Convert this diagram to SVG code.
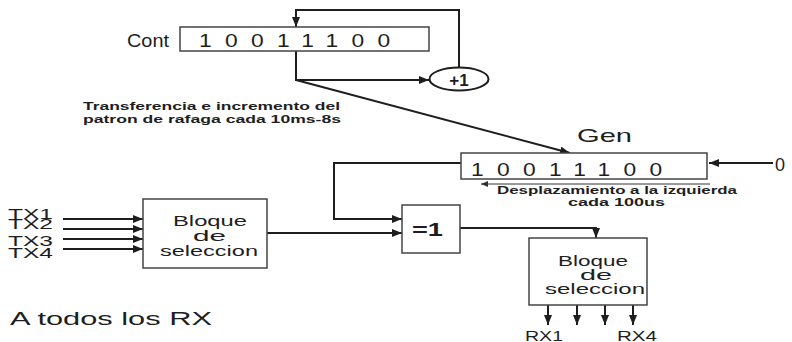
<svg xmlns="http://www.w3.org/2000/svg" width="792" height="342" viewBox="0 0 792 342">
<style>
  .box{fill:#fff;stroke:#444;stroke-width:1.5}
  .ln{fill:none;stroke:#1e1e1e;stroke-width:2}
  .thin{fill:none;stroke:#333;stroke-width:1}
  .t{font-family:"Liberation Sans",Arial,sans-serif;fill:#1e1e1e}
  .b{font-weight:bold}
  .dig{font-family:"Liberation Sans",Arial,sans-serif;fill:#1e1e1e;font-size:19px;letter-spacing:11.1px}
</style>
<defs>
  <marker id="ah" markerUnits="userSpaceOnUse" markerWidth="10" markerHeight="8" refX="10" refY="4" orient="auto">
    <path d="M0,0 L10,4 L0,8 z" fill="#1e1e1e"/>
  </marker>
  <marker id="ahs" markerUnits="userSpaceOnUse" markerWidth="7" markerHeight="6" refX="7" refY="3" orient="auto">
    <path d="M0,0 L7,3 L0,6 z" fill="#333"/>
  </marker>
</defs>
<rect width="792" height="342" fill="#fff"/>

<g id="connectors">
  <polyline class="ln" points="459,67 459,10 296,10 296,27" marker-end="url(#ah)"/>
  <polyline class="ln" points="296,51 296,80 429,80" marker-end="url(#ah)"/>
  <line class="ln" x1="296" y1="80" x2="570" y2="153" marker-end="url(#ah)"/>
  <polyline class="ln" points="461,163 334,163 334,219 402,219" marker-end="url(#ah)"/>
  <line class="ln" x1="773" y1="163" x2="709" y2="163" marker-end="url(#ah)"/>
  <line class="thin" x1="710" y1="184" x2="481" y2="184" marker-end="url(#ahs)"/>
  <line class="ln" x1="63" y1="219" x2="143" y2="219" marker-end="url(#ah)"/>
  <line class="ln" x1="63" y1="229" x2="143" y2="229" marker-end="url(#ah)"/>
  <line class="ln" x1="63" y1="239" x2="143" y2="239" marker-end="url(#ah)"/>
  <line class="ln" x1="63" y1="249" x2="143" y2="249" marker-end="url(#ah)"/>
  <line class="ln" x1="267" y1="233" x2="402" y2="233" marker-end="url(#ah)"/>
  <polyline class="ln" points="460,228 596,228 596,238" marker-end="url(#ah)"/>
  <line class="ln" x1="548" y1="305" x2="548" y2="325" marker-end="url(#ah)"/>
  <line class="ln" x1="577" y1="305" x2="577" y2="325" marker-end="url(#ah)"/>
  <line class="ln" x1="605" y1="305" x2="605" y2="325" marker-end="url(#ah)"/>
  <line class="ln" x1="633" y1="305" x2="633" y2="325" marker-end="url(#ah)"/>
</g>

<g id="cont">
  <text class="t" x="127" y="47" font-size="19" textLength="42" lengthAdjust="spacingAndGlyphs">Cont</text>
  <rect class="box" x="180" y="27" width="249" height="24"/>
  <text class="dig" transform="translate(199,47) scale(1.2,1)">10011100</text>
</g>

<g id="inc">
  <ellipse class="ln" cx="459" cy="79" rx="29.5" ry="11.5" fill="#fff"/>
  <text class="t b" x="459" y="86" font-size="17" text-anchor="middle">+1</text>
</g>

<g id="caption1">
  <text class="t b" x="83" y="110" font-size="11.5" textLength="257" lengthAdjust="spacingAndGlyphs">Transferencia e incremento del</text>
  <text class="t b" x="83" y="123" font-size="11.5" textLength="258" lengthAdjust="spacingAndGlyphs">patron de rafaga cada 10ms-8s</text>
</g>

<g id="gen">
  <text class="t" x="577" y="142" font-size="19" textLength="55" lengthAdjust="spacingAndGlyphs">Gen</text>
  <rect class="box" x="461" y="153" width="246" height="26"/>
  <text class="dig" transform="translate(471,176) scale(1.2,1)">10011100</text>
</g>

<g id="zero">
  <text class="t" x="775" y="171" font-size="18">0</text>
</g>

<g id="caption2">
  <text class="t b" x="497" y="194" font-size="11.5" textLength="240" lengthAdjust="spacingAndGlyphs">Desplazamiento a la izquierda</text>
  <text class="t b" x="568" y="206" font-size="11.5" textLength="97" lengthAdjust="spacingAndGlyphs">cada 100us</text>
</g>

<g id="tx">
  <text class="t" x="8" y="219" font-size="14" textLength="45" lengthAdjust="spacingAndGlyphs">TX1</text>
  <text class="t" x="8" y="229" font-size="14" textLength="45" lengthAdjust="spacingAndGlyphs">TX2</text>
  <text class="t" x="8" y="246" font-size="14" textLength="45" lengthAdjust="spacingAndGlyphs">TX3</text>
  <text class="t" x="8" y="258" font-size="14" textLength="45" lengthAdjust="spacingAndGlyphs">TX4</text>
</g>

<g id="bloque1">
  <rect class="box" x="143" y="199" width="124" height="69"/>
  <text class="t" x="173" y="226" font-size="15" textLength="74" lengthAdjust="spacingAndGlyphs">Bloque</text>
  <text class="t" x="193" y="241" font-size="15" textLength="33" lengthAdjust="spacingAndGlyphs">de</text>
  <text class="t" x="160" y="256" font-size="15" textLength="98" lengthAdjust="spacingAndGlyphs">seleccion</text>
</g>

<g id="xor">
  <rect class="box" x="402" y="205" width="58" height="48"/>
  <text class="t b" x="412" y="236" font-size="19" textLength="31" lengthAdjust="spacingAndGlyphs">=1</text>
</g>

<g id="bloque2">
  <rect class="box" x="529" y="238" width="118" height="67"/>
  <text class="t" x="558" y="266" font-size="15" textLength="70" lengthAdjust="spacingAndGlyphs">Bloque</text>
  <text class="t" x="580" y="280" font-size="15" textLength="32" lengthAdjust="spacingAndGlyphs">de</text>
  <text class="t" x="545" y="294" font-size="15" textLength="100" lengthAdjust="spacingAndGlyphs">seleccion</text>
</g>

<g id="rx">
  <text class="t" x="525" y="341" font-size="14" textLength="38" lengthAdjust="spacingAndGlyphs">RX1</text>
  <text class="t" x="617" y="341" font-size="14" textLength="40" lengthAdjust="spacingAndGlyphs">RX4</text>
</g>

<g id="todos">
  <text class="t" x="10" y="325" font-size="18" textLength="202" lengthAdjust="spacingAndGlyphs">A todos los RX</text>
</g>
</svg>
